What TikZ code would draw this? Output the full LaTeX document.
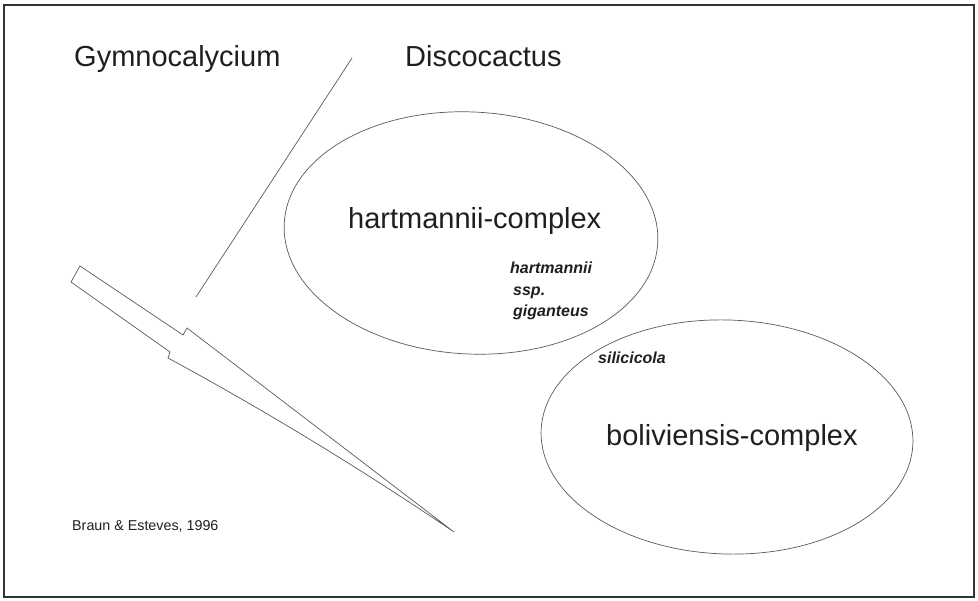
\documentclass[tikz,border=0pt]{standalone}
\usepackage{fontspec}
\setmainfont{Liberation Sans}
\usetikzlibrary{shapes.geometric}
\begin{document}
\begin{tikzpicture}[x=1pt,y=-1pt,
  frame/.style={draw=black!80, line width=1.8pt},
  thin/.style={draw=black!65, line width=0.7pt, line join=miter},
  bigtxt/.style={anchor=base west, inner sep=0pt, text=black!88, font=\fontsize{29}{32}\selectfont},
  smalltxt/.style={anchor=base west, inner sep=0pt, text=black!88, font=\fontsize{16}{19}\selectfont\bfseries\itshape},
  credit/.style={anchor=base west, inner sep=0pt, text=black!88, font=\fontsize{14.3}{17}\selectfont},
  blob/.style={ellipse, draw=black!65, line width=0.7pt, inner sep=0pt}]
\useasboundingbox (0,0) rectangle (978,601);
\draw[frame] (4,5) rectangle (974,597);

% ellipses
\node[blob, minimum width=374pt, minimum height=242pt, rotate=-3] (hart) at (471,233) {};
\node[blob, minimum width=372pt, minimum height=234pt, rotate=-2] (boli) at (727,437) {};

% branching shape
\draw[thin] (80,266) -- (183,335) -- (187,328) -- (454,532)
  .. controls (360.7,468.7) and (265.3,410.7) .. (168,358)
  -- (170,352) -- (71,282) -- cycle;
\coordinate (g1) at (196,297);
\coordinate (g2) at (352,58);
\draw[thin] (g1) -- (g2);

% labels
\node[bigtxt] (gym) at (74,66.5) {Gymnocalycium};
\node[bigtxt] (disc) at (405,66.5) {Discocactus};
\node[bigtxt] (hcx) at (348,229) {hartmannii-complex};
\node[bigtxt] (bcx) at (606,446) {boliviensis-complex};
\node[smalltxt] (s1) at (510,274) {hartmannii};
\node[smalltxt] (s2) at (513,295.5) {ssp.};
\node[smalltxt] (s3) at (513,317) {giganteus};
\node[smalltxt] (s4) at (598,364) {silicicola};
\node[credit] (cr) at (72,530) {Braun \& Esteves, 1996};
\end{tikzpicture}
\end{document}
